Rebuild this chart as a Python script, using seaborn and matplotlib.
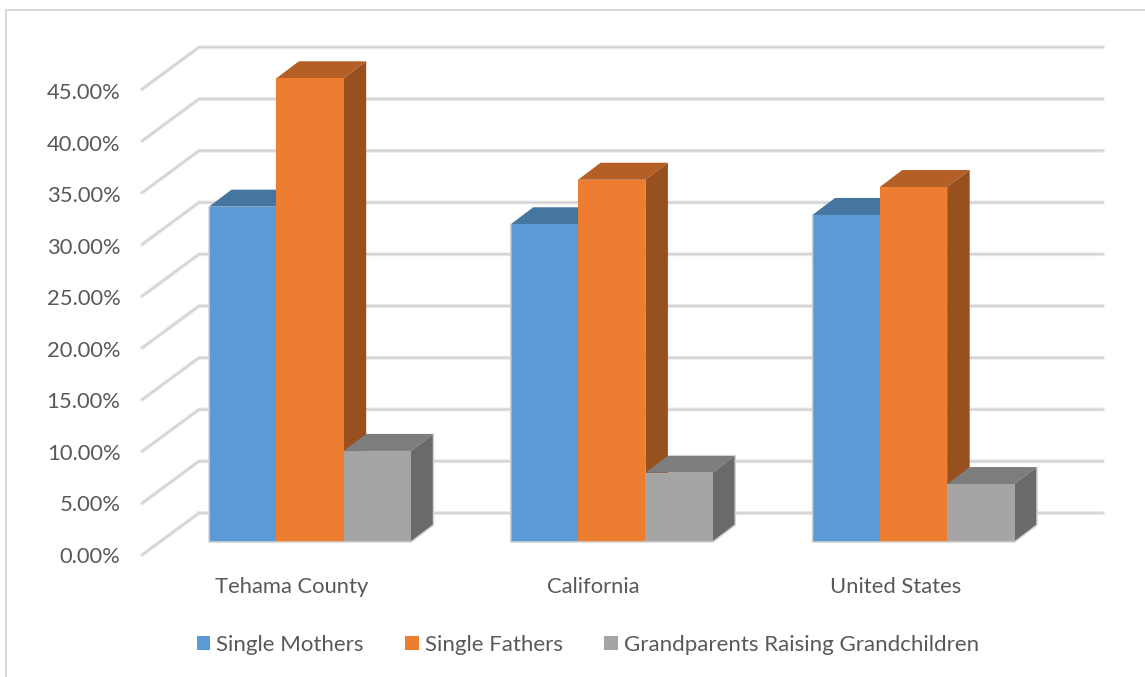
import matplotlib
matplotlib.use("Agg")
import matplotlib.pyplot as plt
from matplotlib.colors import to_rgb
from matplotlib.lines import Line2D
from matplotlib.patches import Polygon
import numpy as np
import pandas as pd
import seaborn as sns

regions = ["Tehama County", "California", "United States"]
single_mothers = [32.4, 30.7, 31.6]
single_fathers = [44.8, 35.0, 34.3]
grandparents = [8.8, 6.7, 5.6]
series_names = ["Single Mothers", "Single Fathers", "Grandparents Raising Grandchildren"]
wall_levels = [0, 5, 10, 15, 20, 25, 30, 35, 40, 45]
wall_labels = [f"{v:.2f}%" for v in wall_levels]
palette = ["#5B9BD5", "#ED7D31", "#A5A5A5"]

W, H = 1145, 677
PX_PER_CAT = 301.75
PX_PER_PCT = 10.35
TEXT = "#595959"
OUTLINE = "#d2d2d2"

sns.set_theme(style="white", rc={"font.family": ["Lato", "DejaVu Sans"]})

frame = pd.DataFrame({
    "Region": regions * 3,
    "Household": np.repeat(series_names, 3),
    "Share": single_mothers + single_fathers + grandparents,
})

fig = plt.figure(figsize=(W / 100, H / 100), dpi=100, facecolor="white")
ax = fig.add_axes([142 / W, (H - 555) / H, 961 / W, 508 / H])
ax.set_facecolor("none")

sns.barplot(
    data=frame, x="Region", y="Share", hue="Household", hue_order=series_names,
    palette=palette, saturation=1, width=202 / PX_PER_CAT, gap=0,
    linewidth=0, ax=ax, legend=True,
)

ax.set_xlim(-(310 - 142) / PX_PER_CAT, (1103 - 310) / PX_PER_CAT)
front_shift = -13 / PX_PER_PCT
back_shift = 29 / PX_PER_PCT
ax.set_ylim(front_shift, 495 / PX_PER_PCT)

# Depth of every column, expressed in data units
depth_x = 22.5 / PX_PER_CAT
depth_y = 17 / PX_PER_PCT


def shade(color, factor):
    return tuple(c * factor for c in to_rgb(color))


for order, (container, color) in enumerate(zip(ax.containers, palette)):
    z = 3 + order
    for bar in container:
        bar.set_zorder(z + 0.5)
        x0, x1 = bar.get_x(), bar.get_x() + bar.get_width()
        top = bar.get_height()
        ax.add_patch(Polygon(
            [(x0, top), (x0 + depth_x, top + depth_y),
             (x1 + depth_x, top + depth_y), (x1, top)],
            closed=True, facecolor=shade(color, 0.76), edgecolor="none",
            zorder=z, clip_on=False,
        ))
        ax.add_patch(Polygon(
            [(x1, 0), (x1 + depth_x, depth_y),
             (x1 + depth_x, top + depth_y), (x1, top)],
            closed=True, facecolor=shade(color, 0.64), edgecolor="none",
            zorder=z, clip_on=False,
        ))

# Soft outline along the foot and outer edges of each cluster
first, last = ax.containers[0], ax.containers[-1]
for left_bar, right_bar in zip(first, last):
    x0 = left_bar.get_x()
    x1 = right_bar.get_x() + right_bar.get_width()
    ax.plot([x0, x0, x1, x1 + depth_x, x1 + depth_x],
            [left_bar.get_height(), 0, 0, depth_y,
             right_bar.get_height() + depth_y],
            color=OUTLINE, lw=1.1, zorder=7, clip_on=False)

# Back wall gridlines with the receding stroke on the side wall
xmin, xmax = ax.get_xlim()
wall_x = xmin + 57 / PX_PER_CAT
for level in wall_levels:
    xs = [xmin, wall_x, xmax]
    ys = [level + front_shift, level + back_shift, level + back_shift]
    ax.plot(xs, ys, color="#e8e8e8", lw=2.8, solid_capstyle="round",
            solid_joinstyle="miter", zorder=1, clip_on=False)
    ax.plot(xs, ys, color="#d0d0d0", lw=1.1, solid_capstyle="round",
            solid_joinstyle="miter", zorder=1.5, clip_on=False)

# Value captions follow the slightly tighter spacing of the side wall's front edge
ax.set_yticks([v * 0.9962 + front_shift for v in wall_levels], wall_labels)
# Category captions sit slightly left of their clusters
ax.set_xticks(np.arange(len(regions)) - 18 / PX_PER_CAT, regions)
ax.set_xlabel("")
ax.set_ylabel("")
ax.tick_params(axis="y", length=0, pad=15.5, labelsize=15.8, labelcolor=TEXT)
ax.tick_params(axis="x", length=0, pad=15.5, labelsize=15.8, labelcolor=TEXT)
sns.despine(ax=ax, left=True, bottom=True)

handles, labels = ax.get_legend_handles_labels()
ax.get_legend().remove()
fig.legend(
    handles, labels, ncols=3, frameon=False, loc="center",
    bbox_to_anchor=(588 / W, 1 - 645 / H), fontsize=16, labelcolor=TEXT,
    handlelength=0.62, handleheight=0.62, handletextpad=0.27,
    columnspacing=1.86, borderpad=0, borderaxespad=0,
)

# Chart area border along the top and left edges
fig.add_artist(Line2D([6 / W, 1], [1 - 10 / H, 1 - 10 / H], color="#d9d9d9", lw=1.4))
fig.add_artist(Line2D([6 / W, 6 / W], [0, 1 - 10 / H], color="#d9d9d9", lw=1.4))

fig.savefig("out.png", dpi=100, facecolor="white")
